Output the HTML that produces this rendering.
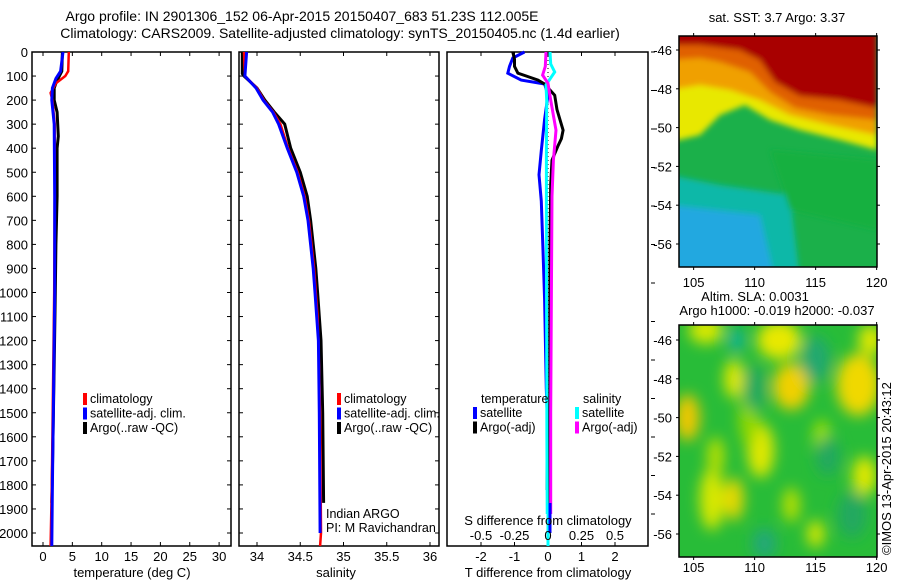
<!DOCTYPE html>
<html><head><meta charset="utf-8"><style>
body{margin:0;background:#fff;width:900px;height:580px;overflow:hidden}
svg{font-family:"Liberation Sans",sans-serif;font-size:13px}
</style></head><body>
<svg id="fig" width="900" height="580" xmlns="http://www.w3.org/2000/svg">
<defs>
<clipPath id="c1"><rect x="679" y="36" width="198" height="231"/></clipPath>
<clipPath id="c2"><rect x="679" y="325" width="198" height="232"/></clipPath>
<filter id="bl" x="-50%" y="-50%" width="200%" height="200%"><feGaussianBlur stdDeviation="7"/></filter>
<filter id="bl2" x="-20%" y="-20%" width="140%" height="140%"><feGaussianBlur stdDeviation="3"/></filter>
</defs>
<text x="302" y="21" text-anchor="middle" font-size="14">Argo profile: IN 2901306_152 06-Apr-2015 20150407_683 51.23S 112.005E</text>
<text x="340" y="38" text-anchor="middle" font-size="14">Climatology: CARS2009. Satellite-adjusted climatology: synTS_20150405.nc (1.4d earlier)</text>
<g id="p1"></g>
<g id="p2"></g>
<g id="p3"></g>
<g id="m1"></g>
<g id="m2"></g>
<text transform="translate(891,555) rotate(-90)" font-size="13">©IMOS 13-Apr-2015 20:43:12</text>
</svg>
<script>
// ---- data ----
const depthTicks=[0,100,200,300,400,500,600,700,800,900,1000,1100,1200,1300,1400,1500,1600,1700,1800,1900,2000];
const tempTicks=[0,5,10,15,20,25,30];
const salTicks=[34,34.5,35,35.5,36];
const tdiffTicks=[-2,-1,0,1,2];
const sdiffTicks=[-0.5,-0.25,0,0.25,0.5];
const sdiffLabels=["-0.5","-0.25","0","0.25","0.5"];
const argoTD=[0,80,100,130,150,200,250,300,350,400,600,800,1000,1300,1600,1875];
const argoT=[3.3,3.2,2.8,2.2,1.9,1.9,2.4,2.5,2.6,2.4,2.4,2.2,2.1,1.9,1.7,1.5];
const climTD=[0,80,100,130,170,200,300,600,1000,1400,1800,2054];
const climT=[4.4,4.3,3.8,2.2,1.3,1.6,2.0,2.0,1.9,1.7,1.5,1.3];
const satTD=[0,80,110,150,200,300,600,1000,1400,1800,2054];
const satT=[3.4,3.0,2.2,1.6,1.5,1.9,2.0,2.0,1.8,1.6,1.5];
const argoSD=[0,90,100,150,200,250,300,400,500,600,700,800,900,1000,1100,1200,1500,1875];
const argoS=[33.83,33.83,33.85,34.0,34.09,34.2,34.32,34.39,34.5,34.58,34.62,34.65,34.68,34.7,34.72,34.74,34.76,34.77];
const climSD=[0,100,150,200,250,300,400,500,600,700,800,900,1000,1100,1200,1500,2000,2054];
const climS=[33.85,33.86,34.0,34.08,34.19,34.27,34.36,34.47,34.55,34.6,34.63,34.66,34.68,34.7,34.71,34.73,34.74,34.73];
const satSD=[0,100,150,200,250,300,400,500,600,700,800,900,1000,1100,1200,1500,2000];
const satS=[33.88,33.86,33.99,34.07,34.18,34.25,34.35,34.46,34.54,34.59,34.62,34.65,34.67,34.69,34.71,34.72,34.73];
const tdD=[0,30,60,88,100,117,133,180,240,325,360,390,450,550,800,1200,1600,1875];
const tdArgo=[-1.05,-1.0,-1.0,-0.9,-0.65,-0.3,-0.1,0.2,0.27,0.45,0.4,0.3,0.12,0.08,0.06,0.05,0.05,0.05];
const tsD=[0,25,60,88,117,133,180,280,410,510,620,825,1030,1400,1800,2000];
const tdSat=[-0.7,-1.05,-1.15,-1.2,-0.8,-0.1,0.0,-0.1,-0.2,-0.27,-0.2,-0.15,-0.1,-0.05,0.05,0.05];
const ssD=[0,50,83,137,200,400,800,1200,1600,2000];
const sdSat=[0.015,0.02,0.05,-0.015,-0.01,-0.012,-0.012,-0.01,-0.008,-0.005];
const smD=[0,60,96,130,200,325,450,600,1000,1500,2000];
const sdArgo=[-0.015,-0.02,-0.04,0.0,0.02,0.06,0.04,0.03,0.025,0.02,0.02];
// ---- helpers ----
const NS="http://www.w3.org/2000/svg";
function mk(par,tag,at,txt){const e=document.createElementNS(NS,tag);for(const k in at)e.setAttribute(k,at[k]);if(txt!==undefined)e.textContent=txt;par.appendChild(e);return e;}
const yD=d=>52+d*0.2405;
const xT=t=>43+t*5.87;
const xS=s=>257+(s-34)*86.5;
const xTD=t=>548+t*33.5;
const xSD=s=>548+s*134;
function line(g,xs,ds,fx,col,w,name){
  const pts=xs.map((v,i)=>fx(v).toFixed(1)+","+yD(ds[i]).toFixed(1)).join(" ");
  const p=mk(g,"polyline",{points:pts,fill:"none",stroke:col,"stroke-width":w});
  
  
}
function frame(g,x0,x1,labels){
  mk(g,"rect",{x:x0,y:52,width:x1-x0,height:494,fill:"none",stroke:"#000","stroke-width":1.5});
  depthTicks.forEach(d=>{
    mk(g,"line",{x1:x0,x2:x0+4,y1:yD(d),y2:yD(d),stroke:"#000"});
    mk(g,"line",{x1:x1-4,x2:x1,y1:yD(d),y2:yD(d),stroke:"#000"});
    if(labels){const t=mk(g,"text",{x:28,y:yD(d)+5,"text-anchor":"end"},String(d));
      
      }
  });
}
function xticks(g,vals,fx,labs,ylab){
  vals.forEach((v,i)=>{
    mk(g,"line",{x1:fx(v),x2:fx(v),y1:52,y2:56,stroke:"#000"});
    mk(g,"line",{x1:fx(v),x2:fx(v),y1:542,y2:546,stroke:"#000"});
    const t=mk(g,"text",{x:fx(v),y:ylab,"text-anchor":"middle"},labs?labs[i]:String(v));
    
    
  });
}
function legend(g,x,y,items){
  items.forEach((it,i)=>{
    mk(g,"rect",{x:x,y:y+i*14.5-10,width:4,height:12,fill:it[1]});
    const t=mk(g,"text",{x:x+7,y:y+i*14.5,"font-size":12.5},it[0]);
    
    
  });
}
// panel 1
const p1=document.getElementById("p1");
frame(p1,32,231,true);
xticks(p1,tempTicks,xT,null,561);
line(p1,argoT,argoTD,xT,"#000",3,"argo-temperature-line");
line(p1,climT,climTD,xT,"#f00",2.5,"climatology-temperature-line");
line(p1,satT,satTD,xT,"#00f",3,"satellite-temperature-line");
legend(p1,83,403,[["climatology","#f00"],["satellite-adj. clim.","#00f"],["Argo(..raw -QC)","#000"]]);
mk(p1,"text",{x:132,y:577,"text-anchor":"middle"},"temperature (deg C)");
// panel 2
const p2=document.getElementById("p2");
frame(p2,239,439,false);
xticks(p2,salTicks,xS,null,561);
line(p2,argoS,argoSD,xS,"#000",3,"argo-salinity-line");
line(p2,climS,climSD,xS,"#f00",2.5,"climatology-salinity-line");
line(p2,satS,satSD,xS,"#00f",3,"satellite-salinity-line");
legend(p2,337,403,[["climatology","#f00"],["satellite-adj. clim.","#00f"],["Argo(..raw -QC)","#000"]]);
mk(p2,"text",{x:326,y:518,"font-size":12.5},"Indian ARGO");
mk(p2,"text",{x:326,y:532,"font-size":12.5},"PI: M Ravichandran");
mk(p2,"text",{x:336,y:577,"text-anchor":"middle"},"salinity");
// panel 3
const p3=document.getElementById("p3");
mk(p3,"rect",{x:447,y:52,width:201,height:494,fill:"none",stroke:"#000","stroke-width":1.5});
tdiffTicks.forEach(v=>{mk(p3,"line",{x1:xTD(v),x2:xTD(v),y1:52,y2:56,stroke:"#000"});mk(p3,"line",{x1:xTD(v),x2:xTD(v),y1:542,y2:546,stroke:"#000"});
  const t=mk(p3,"text",{x:xTD(v),y:561,"text-anchor":"middle"},String(v));
  
  });
for(let y=52;y<=534;y+=38.5)mk(p3,"line",{x1:651,x2:655,y1:y,y2:y,stroke:"#000"});
mk(p3,"line",{x1:548,x2:548,y1:52,y2:546,stroke:"#000","stroke-dasharray":"1,3"});
mk(p3,"line",{x1:546,x2:546,y1:375,y2:490,stroke:"#000","stroke-width":1});
line(p3,tdSat,tsD,xTD,"#00f",3,"satellite-t-diff-line");
line(p3,tdArgo,tdD,xTD,"#000",3,"argo-t-diff-line");
line(p3,sdSat,ssD,xSD,"#0ff",3,"satellite-s-diff-line");
line(p3,sdArgo,smD,xSD,"#f0f",3,"argo-s-diff-line");
mk(p3,"text",{x:481,y:403,"font-size":12.5},"temperature");
mk(p3,"text",{x:583,y:403,"font-size":12.5},"salinity");
legend(p3,473,417,[["satellite","#00f"],["Argo(-adj)","#000"]]);
legend(p3,575,417,[["satellite","#0ff"],["Argo(-adj)","#f0f"]]);
mk(p3,"rect",{x:458,y:514,width:176,height:28,fill:"#fff"});
mk(p3,"line",{x1:xSD(0),x2:xSD(0),y1:510,y2:546,stroke:"#0ff","stroke-width":3});
mk(p3,"line",{x1:550,x2:550,y1:503,y2:533,stroke:"#00f","stroke-width":3});
mk(p3,"text",{x:548,y:525,"text-anchor":"middle"},"S difference from climatology");
sdiffTicks.forEach((v,i)=>{const t=mk(p3,"text",{x:xSD(v),y:540,"text-anchor":"middle"},sdiffLabels[i]);
  
  });
mk(p3,"text",{x:548,y:577,"text-anchor":"middle"},"T difference from climatology");
// maps
const lonTicks=[105,110,115,120];
const latTicks=[-46,-48,-50,-52,-54,-56];
const xL=l=>679+(l-103.8)*12.2;
function mapAxes(g,top,yLat,bot,labY){
  mk(g,"rect",{x:679,y:top,width:198,height:bot-top,fill:"none",stroke:"#000","stroke-width":1.5});
  lonTicks.forEach(l=>{mk(g,"line",{x1:xL(l),x2:xL(l),y1:top-3,y2:top,stroke:"#000"});mk(g,"line",{x1:xL(l),x2:xL(l),y1:bot,y2:bot+3,stroke:"#000"});
    const t=mk(g,"text",{x:xL(l),y:labY,"text-anchor":"middle",});t.textContent=String(l);
    
    });
  latTicks.forEach(a=>{const y=yLat(a);mk(g,"line",{x1:676,x2:679,y1:y,y2:y,stroke:"#000"});mk(g,"line",{x1:877,x2:880,y1:y,y2:y,stroke:"#000"});
    const t=mk(g,"text",{x:672,y:y+5,"text-anchor":"end"},String(a));
    
    });
}
const m1=document.getElementById("m1");
mk(m1,"text",{x:777,y:22,"text-anchor":"middle"},"sat. SST: 3.7 Argo: 3.37");
const g1=mk(m1,"g",{"clip-path":"url(#c1)"});
mk(g1,"rect",{x:679,y:36,width:198,height:231,fill:"#1bb04a"});
const g1b=mk(g1,"g",{filter:"url(#bl2)"});
mk(g1b,"polygon",{points:"670,175 720,185 790,195 800,280 670,280",fill:"#10b8a8"});
mk(g1b,"polygon",{points:"670,205 760,215 775,280 670,280",fill:"#20a8e0"});
mk(g1b,"polygon",{points:"770,150 877,160 877,230 790,210",fill:"#12b040"});
mk(g1b,"polygon",{points:"670,30 877,30 877,150 840,140 800,130 770,120 745,105 720,115 700,135 679,140 670,140",fill:"#e8e800"});
mk(g1b,"polygon",{points:"670,30 877,30 877,135 830,125 790,115 760,100 730,90 700,85 670,90",fill:"#f0a000"});
mk(g1b,"polygon",{points:"670,30 877,30 877,120 830,115 795,108 770,92 750,72 720,62 700,58 670,60",fill:"#e06000"});
mk(g1b,"polygon",{points:"670,30 877,30 877,108 840,100 800,96 775,82 760,60 740,50 700,45 670,45",fill:"#a80000"});
mapAxes(m1,36,a=>50+(-46-a)*19.4,267,287);
const m2=document.getElementById("m2");
mk(m2,"text",{x:755,y:301,"text-anchor":"middle"},"Altim. SLA: 0.0031");
mk(m2,"text",{x:777,y:315,"text-anchor":"middle"},"Argo h1000: -0.019 h2000: -0.037");
const g2=mk(m2,"g",{"clip-path":"url(#c2)"});
mk(g2,"rect",{x:679,y:325,width:198,height:232,fill:"#28bc38"});
const yL2=a=>340+(-46-a)*19.4;
const blobs=[[112,-46,1.8,1.0,"#e8e800"],[106,-45.5,1.4,0.7,"#d8e800"],[113,-48.4,1.5,1.2,"#f0d000"],[118.5,-48.3,1.8,1.6,"#f0d800"],[104.5,-50,1.0,1.2,"#f0c800"],[108.3,-48,0.8,1.0,"#e0e800"],[110.5,-51.7,1.1,1.4,"#e0e800"],[106.5,-54.2,1.0,1.6,"#d8e800"],[108.3,-54.2,0.8,1.1,"#e8d800"],[119,-53,1.0,1.0,"#e0e800"],[115,-56,0.7,0.7,"#d8e800"],[119.5,-46,1.0,0.8,"#e0e800"],[113,-54.5,0.7,0.9,"#b8e000"],[106.8,-52,0.7,1.0,"#b8e000"],[115.5,-51,0.7,0.9,"#a0e000"],[109.5,-50,0.8,1.5,"#90d800"],[108.5,-46,0.6,0.6,"#10b0a0"],[115,-47,1.2,1.2,"#20a870"],[110.8,-56.5,1.0,0.8,"#20a878"],[110,-48.5,0.9,1.2,"#20a860"],[116,-52,1.0,1.0,"#20a860"],[118,-55,1.2,1.2,"#20a860"]];
const g2b=mk(g2,"g",{filter:"url(#bl)"});
blobs.forEach(b=>{const e=mk(g2b,"ellipse",{cx:xL(b[0]),cy:yL2(b[1]),rx:b[2]*12.2,ry:b[3]*19.4,fill:b[4]});
  
  });
mapAxes(m2,325,yL2,557,572);
</script>
</body></html>
